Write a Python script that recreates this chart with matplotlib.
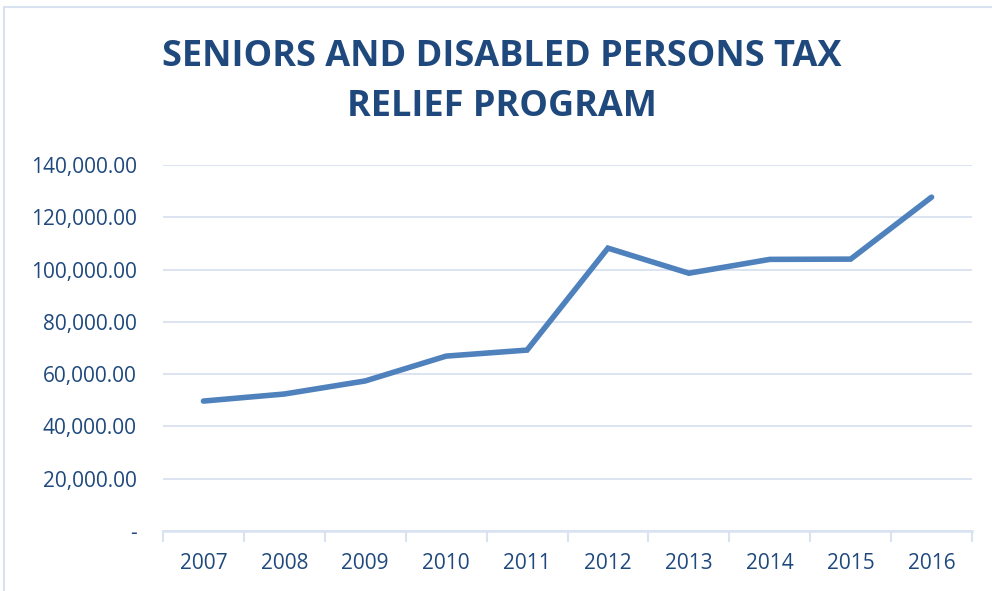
import matplotlib
matplotlib.use("Agg")
import matplotlib.pyplot as plt
import numpy as np
from matplotlib.ticker import FuncFormatter, FixedLocator
from matplotlib.patches import Rectangle

# data
years = ['2007', '2008', '2009', '2010', '2011', '2012', '2013', '2014', '2015', '2016']
relief = [49700, 52400, 57400, 66900, 69200, 108200, 98600, 103900, 104000, 127700]

TXT = '#1f497d'
LINE = '#4f81bd'
GRID = '#d9e2f1'

plt.rcParams['font.family'] = ['Open Sans', 'DejaVu Sans']

fig = plt.figure(figsize=(9.92, 5.91), dpi=100)
ax = fig.add_axes([163 / 992, 1 - 531 / 591, (972 - 163) / 992, (531 - 165) / 591])

x = np.arange(len(years))
ax.plot(x, relief, color=LINE, lw=4.0, solid_capstyle='round', solid_joinstyle='miter', zorder=3)

ax.set_xlim(-0.5, len(years) - 0.5)
ax.set_ylim(0, 140000)
ax.set_yticks(np.arange(0, 140001, 20000))
ax.yaxis.set_major_formatter(FuncFormatter(lambda v, p: '-' if v == 0 else f'{v:,.2f}'))
ax.grid(axis='y', color=GRID, lw=1.3)
ax.set_axisbelow(True)

ax.set_xticks(x)
ax.set_xticklabels(years)
ax.xaxis.set_minor_locator(FixedLocator(np.arange(-0.5, len(years), 1.0)))
ax.tick_params(axis='x', which='major', length=0, pad=16, labelsize=15, labelcolor=TXT)
ax.tick_params(axis='x', which='minor', length=8, width=1.5, color=GRID, direction='out')
ax.tick_params(axis='y', length=0, pad=19, labelsize=15, labelcolor=TXT)

for s in ['top', 'right', 'left']:
    ax.spines[s].set_visible(False)
ax.spines['bottom'].set_color(GRID)
ax.spines['bottom'].set_linewidth(1.8)

fig.text(502 / 992, 1 - 57 / 591, 'SENIORS AND DISABLED PERSONS TAX', ha='center', va='center',
         fontsize=26, fontweight='bold', color=TXT)
fig.text(502 / 992, 1 - 107 / 591, 'RELIEF PROGRAM', ha='center', va='center',
         fontsize=26, fontweight='bold', color=TXT)

# chart frame
fig.patches.append(Rectangle((4 / 992, -0.01), 1.2, 1 - 7 / 591 + 0.01, transform=fig.transFigure,
                             fill=False, edgecolor=GRID, lw=1.5))

fig.savefig('out.png', dpi=100)
